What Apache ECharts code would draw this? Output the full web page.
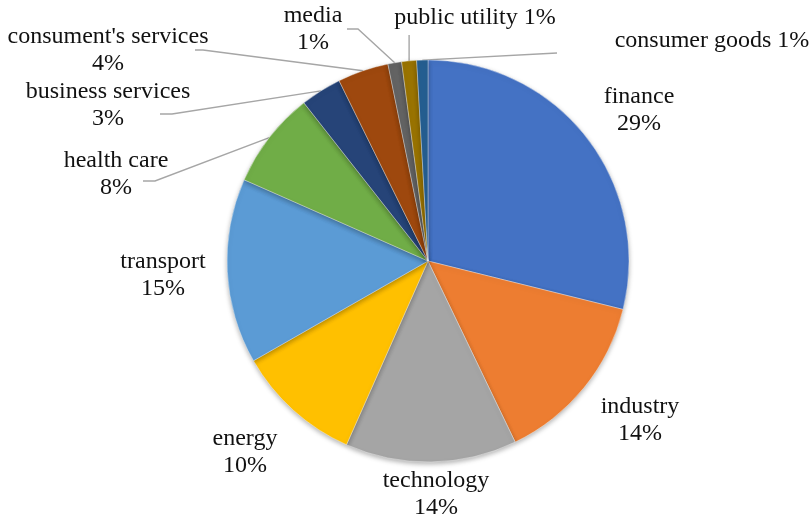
<!DOCTYPE html>
<html>
<head>
<meta charset="utf-8">
<script src="https://cdn.jsdelivr.net/npm/echarts@6/dist/echarts.min.js"></script>
<style>html,body{margin:0;padding:0;background:#fff;}#c{width:812px;height:521px;}</style>
</head>
<body>
<div id="c"></div>
<script>
// Data
var categories = ["finance", "industry", "technology", "energy", "transport", "health care",
  "business services", "consument's services", "media", "public utility", "consumer goods"];
var values = [28.9, 14.0, 13.8, 10.1, 14.9, 7.8, 3.3, 4.1, 1.1, 1.2, 0.9];
var colors = ["#4472C4", "#ED7D31", "#A5A5A5", "#FFC000", "#5B9BD5", "#70AD47",
  "#264478", "#9E480E", "#636363", "#997300", "#255E91"];
var singleLine = [false, false, false, false, false, false, false, false, false, true, true];
var withLeader = [false, false, false, false, false, true, true, true, true, true, true];

// Label placement (layout only)
var labelCenters = [[639,110],[640,420],[436,494],[245,452],[163,275],[116,174],
  [108,105],[108,50],[313,29],[475,18],[712,41]];
var leaderOffsets = [null,null,null,null,null,
  [[39,7],[27,7]], [[64,9],[52,9]], [[95,0],[87,0]], [[45,0],[34,0]], 'vertical', [[-155,12]]];

var chart = echarts.init(document.getElementById('c'));
var data = categories.map(function (n, i) {
  return {
    name: n, value: values[i],
    itemStyle: { color: colors[i] },
    labelLine: { show: withLeader[i] }
  };
});

chart.setOption({
  animation: false,
  series: [{
    type: 'pie',
    center: [428, 261],
    radius: 201,
    startAngle: 90,
    clockwise: true,
    avoidLabelOverlap: false,
    data: data,
    itemStyle: {
      borderColor: 'rgba(255,255,255,0.6)', borderWidth: 0.6,
      shadowBlur: 5, shadowColor: 'rgba(0,0,0,0.3)', shadowOffsetY: 2
    },
    label: {
      show: true,
      position: 'outside',
      fontFamily: 'Liberation Serif',
      fontSize: 24,
      lineHeight: 27,
      color: '#111',
      align: 'center',
      formatter: function (p) {
        var pct = Math.round(p.percent) + '%';
        return singleLine[p.dataIndex] ? p.name + ' ' + pct : p.name + '\n' + pct;
      }
    },
    labelLine: {
      show: true,
      length: 10, length2: 10,
      lineStyle: { color: '#A6A6A6', width: 1.4 }
    },
    labelLayout: function (params) {
      var i = params.dataIndex;
      var c = labelCenters[i];
      var res = { x: c[0], y: c[1], align: 'center', verticalAlign: 'middle' };
      var pts = params.labelLinePoints;
      if (withLeader[i] && pts && pts.length) {
        var a = pts[0];
        var off = leaderOffsets[i];
        var out = [[a[0], a[1]]];
        if (off === 'vertical') {
          out.push([a[0], c[1] + 17]);
        } else {
          off.forEach(function (o) { out.push([c[0] + o[0], c[1] + o[1]]); });
        }
        res.labelLinePoints = out;
      }
      return res;
    }
  }]
});
</script>
</body>
</html>
